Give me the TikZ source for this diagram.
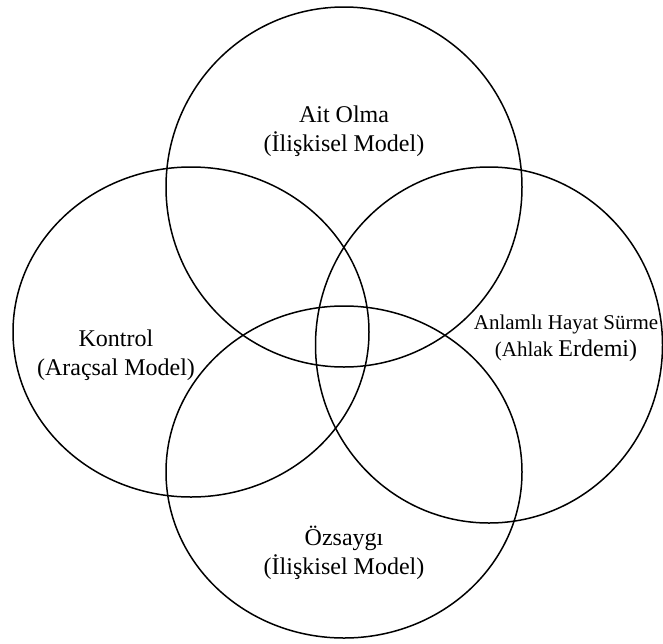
\documentclass[tikz,border=0pt]{standalone}
\usepackage{fontspec}
\setmainfont{Liberation Serif}
\usetikzlibrary{shapes.geometric}
\begin{document}
\begin{tikzpicture}[x=1pt,y=-1pt,
  ring/.style={ellipse,draw,line width=1.5pt,inner sep=0pt},
  lbl/.style={align=center,font=\fontsize{24}{29}\selectfont,inner sep=0pt}]
\useasboundingbox (0,0) rectangle (663,643);
\node[ring,minimum width=356pt,minimum height=360pt] (top) at (344,187) {};
\node[ring,minimum width=356pt,minimum height=330pt] (left) at (191,332) {};
\node[ring,minimum width=347pt,minimum height=356pt] (right) at (489,345) {};
\node[ring,minimum width=356pt,minimum height=332pt] (bottom) at (344,472) {};
\node[lbl] (tl) at (344,131) {Ait Olma\\(İlişkisel Model)};
\node[lbl] (ll) at (116,355) {Kontrol\\(Araçsal Model)};
\node[lbl,font=\fontsize{21}{27}\selectfont] (rl) at (566,338) {Anlamlı Hayat Sürme\\(Ahlak {\fontsize{24}{27}\selectfont Erdemi)}};
\node[lbl] (bl) at (344,553) {Özsaygı\\(İlişkisel Model)};
\end{tikzpicture}
\end{document}
